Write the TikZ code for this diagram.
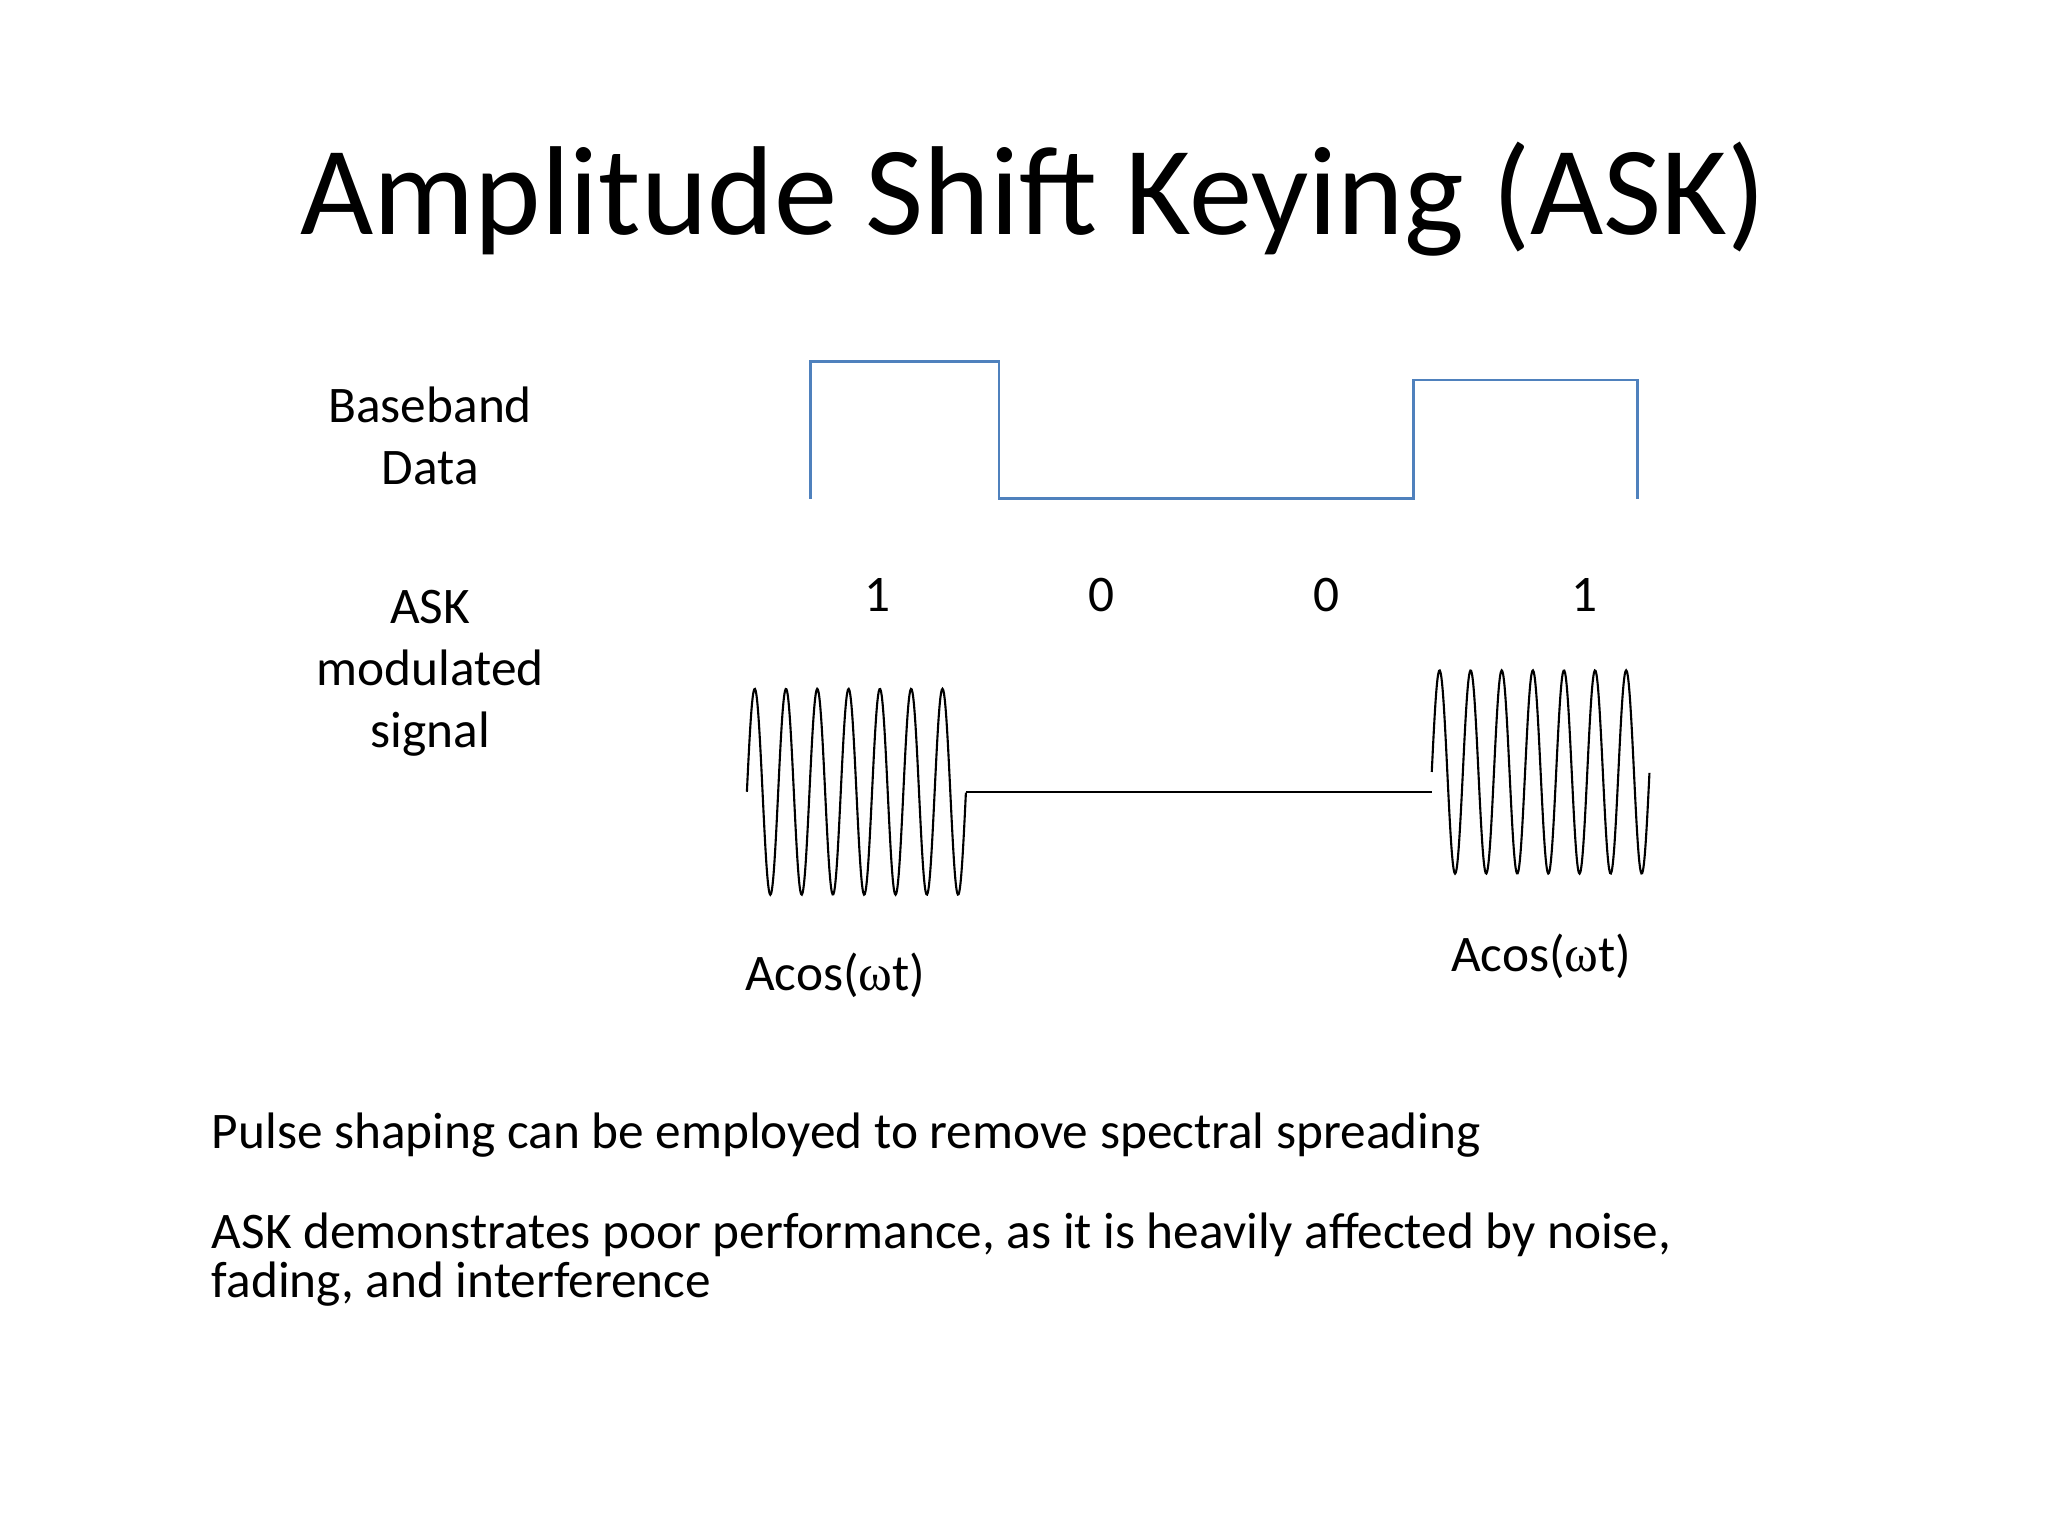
\documentclass[tikz,border=0pt]{standalone}
\usepackage{fontspec}
\setmainfont{Carlito}
\newfontfamily\omfont{Liberation Serif}
\tikzset{
 lbl/.style={font=\fontsize{14.6}{17.6}\selectfont, align=center, inner sep=0pt},
 body/.style={font=\fontsize{14.6}{13.8}\selectfont, align=left, inner sep=0pt},
 base/.style={draw={rgb,255:red,79;green,129;blue,189}, line width=0.8pt},
 wave/.style={draw=black, line width=0.6pt}
}
\begin{document}
\begin{tikzpicture}[x=0.0132cm,y=-0.0132cm]
\useasboundingbox (0,0) rectangle (1552,1164);
\node[lbl, font=\fontsize{36}{40}\selectfont, anchor=base] (title) at (783,178) {Amplitude Shift Keying (ASK)};
\node[lbl] (bb) at (326,330) {Baseband\\Data};
\node[lbl] (ask) at (326,510) {ASK\\modulated\\signal};
\node[lbl] (d1) at (665,451) {1};
\node[lbl] (d2) at (835,451) {0};
\node[lbl] (d3) at (1005,451) {0};
\node[lbl] (d4) at (1201,451) {1};
\draw[base] (614,378) -- (614,274) -- (757,274) -- (757,378) -- (1071,378) -- (1071,288) -- (1241,288) -- (1241,378);
\draw[wave] plot[domain=0:7, samples=300, smooth] ({566+\x*166/7},{600-78*sin(360*\x)});
\draw[wave] (732,600) -- (1085,600);
\draw[wave] plot[domain=0:7, samples=300, smooth] ({1085+\x*165/7},{585-77*sin(360*\x)});
\node[lbl] (a1) at (633,739) {Acos({\omfont ω}t)};
\node[lbl] (a2) at (1168,725) {Acos({\omfont ω}t)};
\node[body, anchor=base west] (t1) at (160,870) {Pulse shaping can be employed to remove spectral spreading};
\node[body, anchor=base west] (t2) at (160,946) {ASK demonstrates poor performance, as it is heavily affected by noise,};
\node[body, anchor=base west] (t3) at (160,983) {fading, and interference};
\end{tikzpicture}
\end{document}
